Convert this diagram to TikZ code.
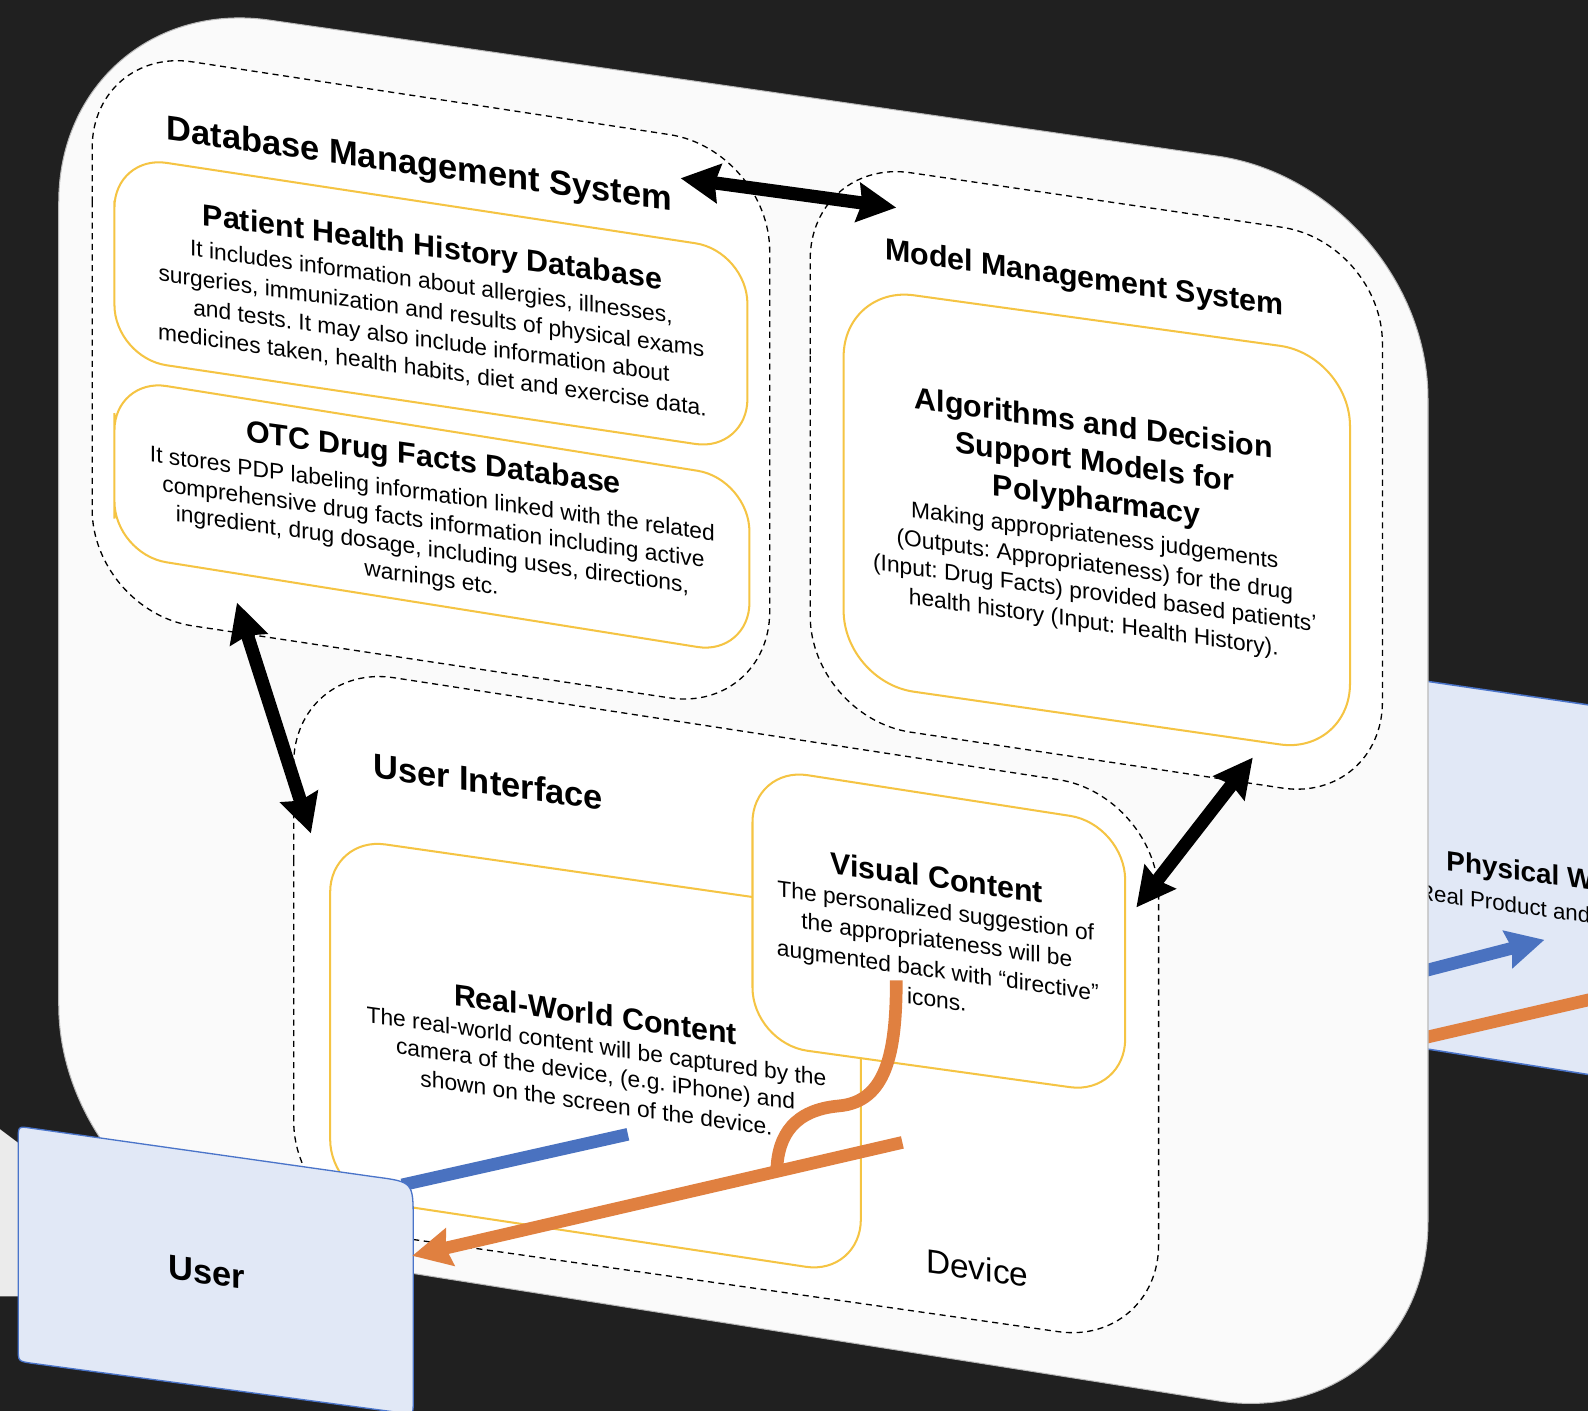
\documentclass[tikz,border=0pt]{standalone}
\usepackage{fontspec}
\setmainfont{Liberation Sans}
\frenchspacing
\usetikzlibrary{arrows.meta}
\definecolor{bgdark}{HTML}{202020}
\definecolor{panel}{HTML}{FAFAFA}
\definecolor{ygold}{HTML}{F5C443}
\definecolor{boxblue}{HTML}{E1E8F6}
\definecolor{edgeblue}{HTML}{4A74C9}
\definecolor{linkblue}{HTML}{4A72C0}
\definecolor{linkorange}{HTML}{E08040}
\definecolor{sidegray}{HTML}{EBEBEB}

\tikzset{
  ttl/.style={font=\bfseries\fontsize{30}{36}\selectfont, anchor=base, inner sep=0pt, yslant=-0.14},
  bigttl/.style={ttl, font=\bfseries\fontsize{34}{40}\selectfont},
  txt/.style={font=\fontsize{22.5}{27}\selectfont, anchor=base, inner sep=0pt, yslant=-0.14},
  dashbox/.style={draw=black, line width=1.3pt, dash pattern=on 6pt off 4.5pt, fill=white, rounded corners=100pt},
  ybox/.style={draw=ygold, line width=2pt, fill=white, rounded corners=#1},
  ybox/.default=52pt,
  bigarrow/.style={line width=13pt, {Stealth[length=38pt,width=38pt,inset=4pt]}-{Stealth[length=38pt,width=38pt,inset=4pt]}},
  flowline/.style={line width=12.5pt}
}

\begin{document}
\begin{tikzpicture}[x=1pt,y=-1pt]
\useasboundingbox (0,0) rectangle (1568,1393);
\fill[bgdark] (0,0) rectangle (1568,1393);
\begin{scope}
\clip (0,0) rectangle (1568,1393);

% grey sheet at the far left
\fill[sidegray] (0,1115) -- (24,1133) -- (24,1280) -- (0,1280) -- cycle;

% Physical World box, partly behind the device panel
\fill[boxblue] (1380,668.6) -- (1600,700.6) -- (1600,1066) -- (1380,1031) -- cycle;
\draw[edgeblue, line width=1.5pt] (1400,671.4) -- (1600,700.6);
\draw[edgeblue, line width=1.5pt] (1400,1034.3) -- (1600,1066);
\node[ttl, font=\bfseries\fontsize{27.5}{33}\selectfont, anchor=base west] (pwt) at (1428,859) {Physical World};
\node[txt, font=\fontsize{22}{26}\selectfont, anchor=base west] (pwd) at (1400,888) {Real Product and};
\coordinate (pwin) at (1405,959);
\coordinate (pwout) at (1525,928);
\draw[linkblue, flowline, -{Stealth[length=37pt,width=37pt,inset=4pt]}] (pwin) -- (pwout);
\coordinate (pwa) at (1395,1027.3);
\coordinate (pwb) at (1600,980);
\draw[linkorange, flowline] (pwa) -- (pwb);

% device panel
\fill[panel, draw=gray!55, line width=1pt, rounded corners=210pt]
  (58,600) -- (58,-10) -- (1410,184) -- (1410,1416) -- (58,1202) -- cycle;

% Database Management System
\path[dashbox] (91,300) -- (91,46) -- (760,148) -- (760,704) -- (91,603) -- cycle;
\path[ybox] (113,250) -- (113,153) -- (738,248) -- (738,446) -- (113,353) -- cycle;
\path[ybox] (113,460) -- (113,373) -- (740,473) -- (740,647) -- (113,547) -- cycle;

% Model Management System
\path[dashbox] (800,450) -- (800,156) -- (1365,239) -- (1365,793) -- (800,708) -- cycle;
\path[ybox=70pt] (833,480) -- (833,282) -- (1333,351) -- (1333,745) -- (833,673) -- cycle;

% User Interface
\path[dashbox] (290,950) -- (290,654) -- (1144,785) -- (1144,1329) -- (290,1207) -- cycle;
\path[ybox=55pt] (326,1000) -- (326,826) -- (850,901) -- (850,1259) -- (326,1180) -- cycle;
\path[ybox=55pt] (743,900) -- (743,757) -- (1111,814) -- (1111,1081) -- (743,1030) -- cycle;

% texts of the Database Management System
\node[bigttl] (dbms) at (414,173) {Database Management System};
\node[ttl] (phh) at (427,254) {Patient Health History Database};
\node[txt] (phh1) at (426,286) {It includes information about allergies, illnesses,};
\node[txt] (phh2) at (426,315) {surgeries, immunization and results of physical exams};
\node[txt] (phh3) at (426,344) {and tests. It may also include information about};
\node[txt] (phh4) at (427,373) {medicines taken, health habits, diet and exercise data.};
\node[ttl] (otc) at (428,462) {OTC Drug Facts Database};
\node[txt] (otc1) at (427,495) {It stores PDP labeling information linked with the related};
\node[txt] (otc2) at (428,523) {comprehensive drug facts information including active};
\node[txt] (otc3) at (427,550) {ingredient, drug dosage, including uses, directions,};
\node[txt] (otc4) at (426,578) {warnings etc.};

% texts of the Model Management System
\node[ttl] (mms) at (1071,284) {Model Management System};
\node[ttl] (alg1) at (1080,428) {Algorithms and Decision};
\node[ttl] (alg2) at (1081,466) {Support Models for};
\node[ttl] (alg3) at (1083,504) {Polypharmacy};
\node[txt] (alg4) at (1081,536) {Making appropriateness judgements};
\node[txt] (alg5) at (1081,565) {(Outputs: Appropriateness) for the drug};
\node[txt] (alg6) at (1081,593) {(Input: Drug Facts) provided based patients’};
\node[txt] (alg7) at (1080,622) {health history (Input: Health History).};

% texts of the User Interface
\node[bigttl] (ui) at (482,784) {User Interface};
\node[ttl] (rw) at (588,1012) {Real-World Content};
\node[txt] (rw1) at (589,1041) {The real-world content will be captured by the};
\node[txt] (rw2) at (588,1068) {camera of the device, (e.g. iPhone) and};
\node[txt] (rw3) at (589,1097) {shown on the screen of the device.};
\node[ttl] (vc) at (925,877) {Visual Content};
\node[txt] (vc1) at (924,907) {The personalized suggestion of};
\node[txt] (vc2) at (925,936) {the appropriateness will be};
\node[txt] (vc3) at (926,966) {augmented back with “directive”};
\node[txt] (vc4) at (925,995) {icons.};
\node[txt, font=\fontsize{33}{40}\selectfont] (dev) at (965,1264) {Device};

% links between the systems
\coordinate (dbR) at (672,176);
\coordinate (mmL) at (885,205);
\draw[bigarrow] (dbR) -- (mmL);
\coordinate (dbB) at (234,595);
\coordinate (uiL) at (307,823);
\draw[bigarrow] (dbB) -- (uiL);
\coordinate (mmB) at (1237,748);
\coordinate (uiR) at (1122,896);
\draw[bigarrow] (mmB) -- (uiR);

% camera feed towards the user
\coordinate (rwcam) at (620,1120);
\coordinate (usrcam) at (397,1170);
\draw[linkblue, flowline] (rwcam) -- (usrcam);

% User box
\filldraw[fill=boxblue, draw=edgeblue, line width=1.3pt]
  (18,1125) .. controls (18,1112) .. (31,1114)
  -- (370,1162) .. controls (408,1167) .. (408,1205)
  -- (408,1384) .. controls (408,1397) .. (396,1395)
  -- (31,1346) .. controls (18,1344) .. (18,1332) -- cycle;
\node[bigttl] (user) at (204,1268) {User};

% augmented view back to the user
\coordinate (vcicon) at (885,968);
\coordinate (merge) at (767,1156);
\draw[linkorange, flowline] (vcicon) .. controls (885,1040) and (875,1088) .. (828,1092)
  .. controls (785,1096) and (768,1120) .. (merge);
\coordinate (vcout) at (891,1128);
\coordinate (usrtip) at (407,1240);
\draw[linkorange, flowline, -{Stealth[length=38pt,width=37pt,inset=4pt]}] (vcout) -- (usrtip);
\end{scope}
\end{tikzpicture}
\end{document}
